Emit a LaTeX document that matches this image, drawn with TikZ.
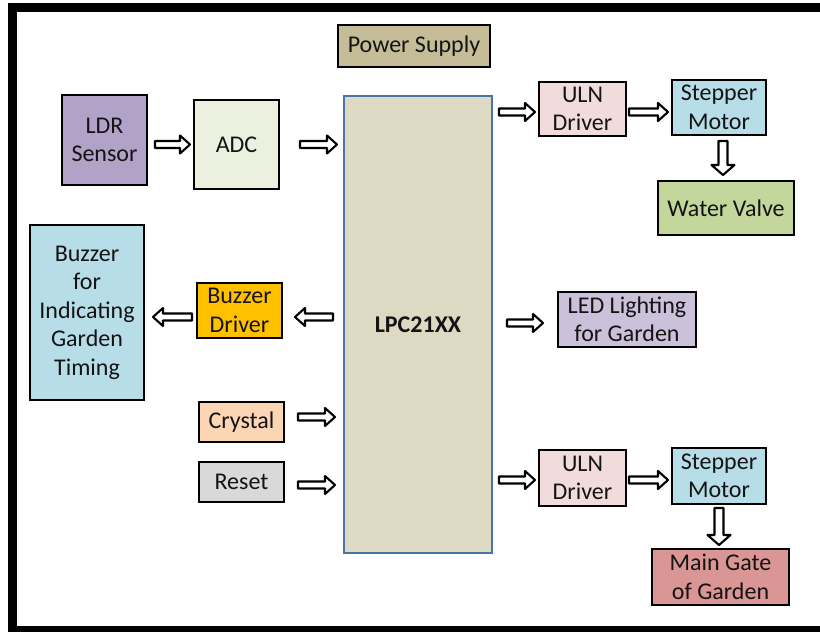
\documentclass[tikz,border=0pt]{standalone}
\usepackage{fontspec}
\setmainfont{Carlito}
\usetikzlibrary{calc}
\definecolor{cPower}{HTML}{C4BD97}
\definecolor{cLdr}{HTML}{B3A2C7}
\definecolor{cAdc}{HTML}{EBF1DE}
\definecolor{cLpc}{HTML}{DDD9C3}
\definecolor{cLpcB}{HTML}{4A74A8}
\definecolor{cUln}{HTML}{F2DCDB}
\definecolor{cStep}{HTML}{B7DEE8}
\definecolor{cValve}{HTML}{C3D69B}
\definecolor{cLed}{HTML}{CCC1DA}
\definecolor{cBd}{HTML}{FFC000}
\definecolor{cCry}{HTML}{FCD5B5}
\definecolor{cRst}{HTML}{D9D9D9}
\definecolor{cGate}{HTML}{D99694}
\definecolor{cTxt}{HTML}{141414}
\tikzset{
  box/.style={draw=black, line width=2pt, rectangle, inner sep=0pt, align=center,
    font=\fontsize{24}{28.5}\selectfont, text=cTxt},
  blkline/.style={draw=black, fill=white, line width=2.1pt, line join=round},
}
\newcommand\blockarr[4]{%
  \coordinate (bkH) at ($(#2)!10pt!(#1)$);
  \draw[blkline] ($(#1)!#3!90:(#2)$) -- ($(bkH)!#3!90:(#2)$) -- ($(bkH)!#4!90:(#2)$)
    -- (#2) -- ($(bkH)!#4!-90:(#2)$) -- ($(bkH)!#3!-90:(#2)$) -- ($(#1)!#3!-90:(#2)$) -- cycle;}
\begin{document}
\begin{tikzpicture}[x=1pt,y=-1pt]
\useasboundingbox (0,0) rectangle (820,632);
\fill[white] (0,0) rectangle (820,632);
\begin{scope}
\clip (0,0) rectangle (820,632);
\draw[line width=9pt] (12.5,7.5) rectangle (850,630.5);
\end{scope}

% nodes
\node[box, fill=cPower, minimum width=152pt, minimum height=42pt] (power) at (414,46) {Power Supply};
\node[box, fill=cLdr, minimum width=85pt, minimum height=90pt] (ldr) at (104.5,140) {LDR\\Sensor};
\node[box, fill=cAdc, minimum width=85pt, minimum height=89pt] (adc) at (236.5,144.5) {ADC};
\node[box, draw=cLpcB, fill=cLpc, minimum width=148pt, minimum height=457pt, font=\fontsize{24}{28.5}\selectfont\bfseries] (lpc) at (418,324.5) {LPC21XX};
\node[box, fill=cUln, minimum width=87pt, minimum height=54pt] (uln1) at (582.5,109) {ULN\\Driver};
\node[box, fill=cStep, minimum width=94pt, minimum height=55pt] (st1) at (719,107.5) {Stepper\\Motor};
\node[box, fill=cValve, minimum width=136pt, minimum height=54pt] (valve) at (726,208) {Water Valve};
\node[box, fill=cLed, minimum width=138pt, minimum height=55pt] (led) at (627,319.5) {LED Lighting\\for Garden};
\node[box, fill=cStep, minimum width=114pt, minimum height=175pt] (buz) at (87,312.5) {Buzzer\\for\\Indicating\\Garden\\Timing};
\node[box, fill=cBd, minimum width=85pt, minimum height=55pt] (bd) at (239.5,310.5) {Buzzer\\Driver};
\node[box, fill=cCry, minimum width=85pt, minimum height=40pt] (cry) at (241.5,422) {Crystal};
\node[box, fill=cRst, minimum width=85pt, minimum height=40pt] (rst) at (241.5,482) {Reset};
\node[box, fill=cUln, minimum width=87pt, minimum height=56pt] (uln2) at (582.5,478) {ULN\\Driver};
\node[box, fill=cStep, minimum width=94pt, minimum height=56pt] (st2) at (719,476) {Stepper\\Motor};
\node[box, fill=cGate, minimum width=137pt, minimum height=56pt] (gate) at (720.5,577) {Main Gate\\of Garden};

% arrow end points
\coordinate (a1s) at ($(ldr.east |- adc.west)+(7,0)$);
\coordinate (a1e) at ($(adc.west)+(-3,0)$);
\coordinate (a2s) at ($(adc.east)+(20,0)$);
\coordinate (a2e) at ($(adc.east -| lpc.west)+(-6,0)$);
\coordinate (a3s) at ($(uln1.west -| lpc.east)+(6,3)$);
\coordinate (a3e) at ($(uln1.west)+(-3,3)$);
\coordinate (a4s) at ($(uln1.east)+(2,3)$);
\coordinate (a4e) at ($(st1.west)+(-3,4.5)$);
\coordinate (a5s) at ($(st1.south)+(4,5)$);
\coordinate (a5e) at ($(valve.north)+(-3,-5)$);
\coordinate (a6s) at ($(led.west -| lpc.east)+(14,3.5)$);
\coordinate (a6e) at ($(led.west)+(-14,3.5)$);
\coordinate (a7s) at ($(bd.east -| lpc.west)+(-10,6.5)$);
\coordinate (a7e) at ($(bd.east)+(12,6.5)$);
\coordinate (a8s) at ($(bd.west)+(-4,6.5)$);
\coordinate (a8e) at ($(buz.east |- bd.west)+(8,6.5)$);
\coordinate (a9s) at ($(cry.east)+(13,-5)$);
\coordinate (a9e) at ($(cry.east -| lpc.west)+(-8,-5)$);
\coordinate (a10s) at ($(rst.east)+(13,3)$);
\coordinate (a10e) at ($(rst.east -| lpc.west)+(-8,3)$);
\coordinate (a11s) at ($(uln2.west -| lpc.east)+(6,2)$);
\coordinate (a11e) at ($(uln2.west)+(-3,2)$);
\coordinate (a12s) at ($(uln2.east)+(2,2)$);
\coordinate (a12e) at ($(st2.west)+(-3,4)$);
\coordinate (a13s) at ($(st2.south)+(0,3)$);
\coordinate (a13e) at ($(st2.south |- gate.north)+(0,-3)$);

\blockarr{a1s}{a1e}{3.5pt}{9pt}
\blockarr{a2s}{a2e}{3.5pt}{9pt}
\blockarr{a3s}{a3e}{3.5pt}{9pt}
\blockarr{a4s}{a4e}{3.5pt}{9pt}
\blockarr{a5s}{a5e}{4.5pt}{11.5pt}
\blockarr{a6s}{a6e}{3.5pt}{9pt}
\blockarr{a7s}{a7e}{3.5pt}{9pt}
\blockarr{a8s}{a8e}{3.5pt}{9pt}
\blockarr{a9s}{a9e}{3.5pt}{9pt}
\blockarr{a10s}{a10e}{3.5pt}{9pt}
\blockarr{a11s}{a11e}{3.5pt}{9pt}
\blockarr{a12s}{a12e}{3.5pt}{9pt}
\blockarr{a13s}{a13e}{4.5pt}{11.5pt}
\end{tikzpicture}
\end{document}
